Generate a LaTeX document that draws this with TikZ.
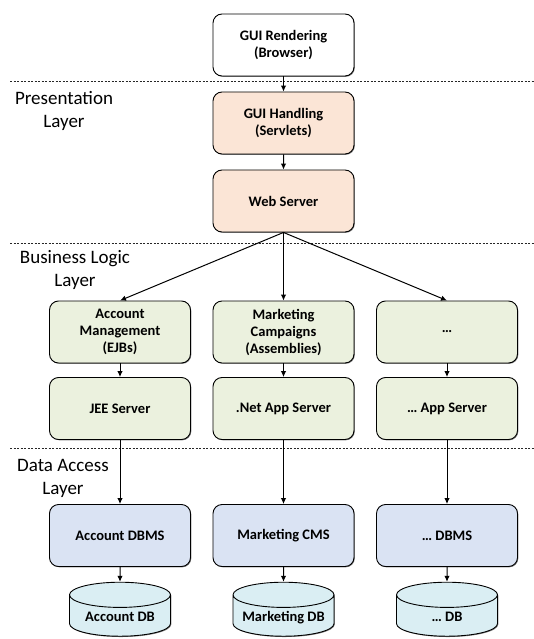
\documentclass[tikz,border=0pt]{standalone}
\usepackage{fontspec}
\setmainfont{Carlito}
\usepackage{tikz}
\usetikzlibrary{arrows.meta}
\usetikzlibrary{shapes.geometric, shadows}

\definecolor{handlingfill}{HTML}{FBE5D6}
\definecolor{logicfill}{HTML}{EBF1DE}
\definecolor{accessfill}{HTML}{DAE3F3}
\definecolor{dbfill}{HTML}{DAEEF3}

\tikzset{
  tier/.style={draw=black, line width=0.9pt, rounded corners=9pt, fill=white,
    minimum width=141pt, minimum height=62pt, align=center,
    font=\bfseries\fontsize{14.5}{17}\selectfont,
    drop shadow={shadow xshift=0.8pt, shadow yshift=-0.8pt, fill=black, opacity=0.5}},
  handling/.style={tier, fill=handlingfill},
  logic/.style={tier, fill=logicfill},
  access/.style={tier, fill=accessfill},
  store/.style={draw=black, line width=0.9pt, fill=dbfill, cylinder, shape border rotate=90,
    aspect=0.28, text width=86pt, align=flush center, text height=10pt, text depth=3pt,
    inner sep=2pt, minimum width=101pt, minimum height=54pt,
    font=\bfseries\fontsize{14.5}{17}\selectfont,
    drop shadow={shadow xshift=0.8pt, shadow yshift=-0.8pt, fill=black, opacity=0.5}},
  layer/.style={align=center, font=\fontsize{19}{23}\selectfont},
  divider/.style={draw=black!85, dash pattern=on 2.2pt off 1.3pt, line width=0.8pt}
}

\begin{document}
\begin{tikzpicture}[->,>={Latex[length=6pt,width=5.5pt]},line width=1pt,
  edge from parent path={(\tikzparentnode.south) -- (\tikzchildnode.north)},
  level 1/.style={level distance=78pt},
  level 2/.style={level distance=78pt},
  level 3/.style={level distance=131pt, sibling distance=163.5pt},
  level 4/.style={level distance=76.5pt},
  level 5/.style={level distance=127pt},
  level 6/.style={level distance=82pt}]
\useasboundingbox (0,0) rectangle (534pt,-639pt);

% layer separators
\draw[divider,-] (10pt,-81pt) -- (534pt,-81pt);
\draw[divider,-] (10pt,-243pt) -- (534pt,-243pt);
\draw[divider,-] (10pt,-448pt) -- (534pt,-448pt);

\node[layer] (presentation) at (64pt,-111pt) {Presentation\\Layer};
\node[layer] (business) at (75pt,-270pt) {Business Logic\\Layer};
\node[layer] (dataaccess) at (63pt,-478pt) {Data Access\\Layer};

\node[tier] (browser) at (283.5pt,-45pt) {GUI Rendering\\(Browser)}
	child {node[handling] (servlets) {GUI Handling\\(Servlets)}
		child {node[handling] (webserver) {Web Server}
			child {node[logic] (account) {Account\\Management\\(EJBs)}
				child {node[logic] (jee) {JEE Server}
					child {node[access] (accountdbms) {Account DBMS}
						child {node[store] (accountdb) {Account DB}}
					}
				}
			}
			child {node[logic] (marketing) {Marketing\\Campaigns\\(Assemblies)}
				child {node[logic] (netserver) {.Net App Server}
					child {node[access] (marketingcms) {Marketing CMS}
						child {node[store] (marketingdb) {Marketing DB}}
					}
				}
			}
			child {node[logic] (other) {\dots}
				child {node[logic] (otherserver) {\dots\ App Server}
					child {node[access] (otherdbms) {\dots\ DBMS}
						child {node[store] (otherdb) {\dots\ DB}}
					}
				}
			}
		}
	}
;
\end{tikzpicture}
\end{document}
